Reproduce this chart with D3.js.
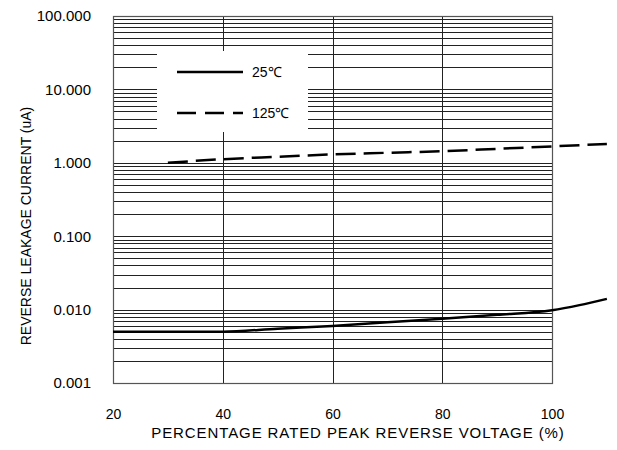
<!DOCTYPE html>
<html>
<head>
<meta charset="utf-8">
<script src="https://cdn.jsdelivr.net/npm/d3@7"></script>
<style>
  body { margin: 0; background: #fff; }
  text { font-family: "Liberation Sans", Arial, sans-serif; fill: #000; }
</style>
</head>
<body>
<svg id="chart" width="617" height="450"></svg>
<script>
// values
const xTicks = [20, 40, 60, 80, 100];
const yTicks = [0.001, 0.01, 0.1, 1, 10, 100];
const yTickLabels = ['0.001', '0.010', '0.100', '1.000', '10.000', '100.000'];

const v25 = [20, 30, 40, 50, 60, 70, 80, 90, 100, 105, 110];
const i25 = [0.0050, 0.0050, 0.0050, 0.0055, 0.0060, 0.0067, 0.0075, 0.0085, 0.0098, 0.0115, 0.0140];

const v125 = [30, 40, 50, 60, 70, 80, 90, 100, 110];
const i125 = [1.00, 1.12, 1.21, 1.30, 1.37, 1.44, 1.55, 1.67, 1.81];

const legendItems = [
  { label: '25℃', dash: null },
  { label: '125℃', dash: '19,9' }
];

const svg = d3.select('#chart');
const margin = { top: 16, left: 113, right: 65, bottom: 67 };
const width = +svg.attr('width');
const height = +svg.attr('height');
const innerWidth = width - margin.left - margin.right;
const innerHeight = height - margin.top - margin.bottom;

const x = d3.scaleLinear().domain([20, 100]).range([0, innerWidth]);
const y = d3.scaleLog().domain([0.001, 100]).range([innerHeight, 0]);

const g = svg.append('g')
  .attr('transform', `translate(${margin.left},${margin.top})`);

// horizontal grid: 1..9 per decade
const gridVals = [];
for (let e = -3; e < 2; e++) {
  for (let m = 1; m < 10; m++) gridVals.push(m * Math.pow(10, e));
}
gridVals.push(100);

g.append('g').selectAll('line').data(gridVals)
  .enter().append('line')
  .attr('x1', 0).attr('x2', innerWidth)
  .attr('y1', d => Math.round(y(d)) + 0.5)
  .attr('y2', d => Math.round(y(d)) + 0.5)
  .attr('stroke', '#222')
  .attr('stroke-width', 1);

g.append('g').selectAll('line').data([40, 60, 80])
  .enter().append('line')
  .attr('x1', d => Math.round(x(d)) + 0.5)
  .attr('x2', d => Math.round(x(d)) + 0.5)
  .attr('y1', 0).attr('y2', innerHeight)
  .attr('stroke', '#222')
  .attr('stroke-width', 1);

// frame
g.append('rect')
  .attr('x', 0.5).attr('y', 0.5)
  .attr('width', innerWidth).attr('height', Math.round(innerHeight))
  .attr('fill', 'none')
  .attr('stroke', '#555')
  .attr('stroke-width', 1.2);

// legend box covers the grid
const lg = g.append('g').attr('transform', 'translate(44,35)');
lg.append('rect')
  .attr('width', 151).attr('height', 81)
  .attr('fill', '#fff');

legendItems.forEach((d, i) => {
  const ly = 21 + i * 41;
  lg.append('line')
    .attr('x1', 20).attr('x2', 86)
    .attr('y1', ly).attr('y2', ly)
    .attr('stroke', '#000')
    .attr('stroke-width', 2.5)
    .attr('stroke-dasharray', d.dash);
  lg.append('text')
    .attr('x', 95).attr('y', ly + 5)
    .style('font-size', '14px')
    .text(d.label);
});

// axes labels
const xAxis = d3.axisBottom(x).tickValues(xTicks).tickSize(0).tickPadding(26);
const xAxisG = g.append('g')
  .attr('transform', `translate(0,${innerHeight})`)
  .call(xAxis);
xAxisG.select('.domain').remove();
xAxisG.selectAll('text')
  .style('font-size', '14px')
  .style('font-family', '"Liberation Sans", Arial, sans-serif')
  .attr('fill', '#000');

const yAxis = d3.axisLeft(y).tickValues(yTicks)
  .tickFormat((d, i) => yTickLabels[i]).tickSize(0).tickPadding(22);
const yAxisG = g.append('g').call(yAxis);
yAxisG.select('.domain').remove();
yAxisG.selectAll('text')
  .style('font-size', '15px')
  .style('font-family', '"Liberation Sans", Arial, sans-serif')
  .attr('fill', '#000');

svg.append('text')
  .attr('x', 358)
  .attr('y', 438)
  .attr('text-anchor', 'middle')
  .style('font-size', '15px')
  .style('letter-spacing', '0.9px')
  .text('PERCENTAGE RATED PEAK REVERSE VOLTAGE (%)');

svg.append('text')
  .attr('transform', 'translate(31,226) rotate(-90)')
  .attr('text-anchor', 'middle')
  .style('font-size', '14px')
  .text('REVERSE LEAKAGE CURRENT (uA)');

// curves
const line = d3.line()
  .x(d => x(d[0]))
  .y(d => y(d[1]))
  .curve(d3.curveMonotoneX);

g.append('path')
  .datum(v25.map((v, i) => [v, i25[i]]))
  .attr('d', line)
  .attr('fill', 'none')
  .attr('stroke', '#000')
  .attr('stroke-width', 2.5);

g.append('path')
  .datum(v125.map((v, i) => [v, i125[i]]))
  .attr('d', line)
  .attr('fill', 'none')
  .attr('stroke', '#000')
  .attr('stroke-width', 2.5)
  .attr('stroke-dasharray', '20,8');
</script>
</body>
</html>
